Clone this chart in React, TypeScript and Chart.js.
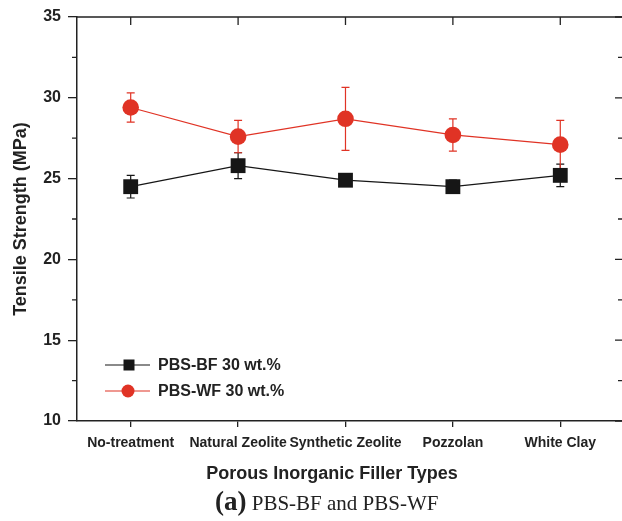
import React, { useEffect, useRef } from 'react';
import { Chart, registerables } from 'chart.js';

Chart.register(...registerables);

const categories = ['No-treatment', 'Natural Zeolite', 'Synthetic Zeolite', 'Pozzolan', 'White Clay'];
const bfValues = [24.5, 25.8, 24.9, 24.5, 25.2];
const bfErrors = [0.7, 0.8, 0.2, 0.4, 0.7];
const wfValues = [29.4, 27.6, 28.7, 27.7, 27.1];
const wfErrors = [0.9, 1.0, 1.95, 1.0, 1.5];
const yTicks = [10, 15, 20, 25, 30, 35];
const yMinorTicks = [12.5, 17.5, 22.5, 27.5, 32.5];
const seriesLabels = ['PBS-BF 30 wt.%', 'PBS-WF 30 wt.%'];
const xTitle = 'Porous Inorganic Filler Types';
const yTitle = 'Tensile Strength (MPa)';

const BLACK = '#161616';
const RED = '#e03325';
const AXIS = '#222222';
const FONT = '"Liberation Sans", Arial, sans-serif';

const errorsBySeries = [bfErrors, wfErrors];
const valuesBySeries = [bfValues, wfValues];
const colorsBySeries = [BLACK, RED];

const errorBarPlugin = {
  id: 'errorBars',
  beforeDatasetsDraw(chart: any) {
    const ctx = chart.ctx;
    const ys = chart.scales.y;
    ctx.save();
    for (let i = 0; i < chart.data.datasets.length; i++) {
      const meta = chart.getDatasetMeta(i);
      ctx.strokeStyle = colorsBySeries[i];
      ctx.lineWidth = 1.2;
      meta.data.forEach((pt: any, j: number) => {
        const v = valuesBySeries[i][j];
        const e = errorsBySeries[i][j];
        const yt = ys.getPixelForValue(v + e);
        const yb = ys.getPixelForValue(v - e);
        const x = pt.x;
        ctx.beginPath();
        ctx.moveTo(x, yt);
        ctx.lineTo(x, yb);
        ctx.moveTo(x - 4, yt);
        ctx.lineTo(x + 4, yt);
        ctx.moveTo(x - 4, yb);
        ctx.lineTo(x + 4, yb);
        ctx.stroke();
      });
    }
    ctx.restore();
  },
};

const framePlugin = {
  id: 'frame',
  afterDraw(chart: any) {
    const ctx = chart.ctx;
    const { left, right, top, bottom } = chart.chartArea;
    const ys = chart.scales.y;
    const xs = chart.scales.x;
    ctx.save();
    ctx.strokeStyle = AXIS;
    ctx.lineWidth = 1.5;
    ctx.beginPath();
    ctx.moveTo(left, top);
    ctx.lineTo(right, top);
    ctx.lineTo(right, bottom);
    ctx.stroke();
    ctx.lineWidth = 1.3;
    ctx.beginPath();
    yMinorTicks.forEach((v) => {
      const y = ys.getPixelForValue(v);
      ctx.moveTo(left - 5, y);
      ctx.lineTo(left, y);
      ctx.moveTo(right - 5, y);
      ctx.lineTo(right, y);
    });
    yTicks.forEach((v) => {
      const y = ys.getPixelForValue(v);
      ctx.moveTo(right - 8, y);
      ctx.lineTo(right, y);
    });
    categories.forEach((_, j) => {
      const x = xs.getPixelForValue(j);
      ctx.moveTo(x, top);
      ctx.lineTo(x, top + 8);
    });
    ctx.stroke();

    // legend
    const rows = [365, 391];
    rows.forEach((y, i) => {
      ctx.strokeStyle = colorsBySeries[i];
      ctx.fillStyle = colorsBySeries[i];
      ctx.lineWidth = 1.2;
      ctx.beginPath();
      ctx.moveTo(105, y);
      ctx.lineTo(150, y);
      ctx.stroke();
      if (i === 0) {
        ctx.fillRect(129 - 5.5, y - 5.5, 11, 11);
      } else {
        ctx.beginPath();
        ctx.arc(128, y, 6.5, 0, Math.PI * 2);
        ctx.fill();
      }
      ctx.fillStyle = AXIS;
      ctx.font = `bold 16px ${FONT}`;
      ctx.textBaseline = 'middle';
      ctx.textAlign = 'left';
      ctx.fillText(seriesLabels[i], 158, y + 1);
    });
    ctx.restore();
  },
};

export default function App() {
  const ref = useRef<HTMLCanvasElement>(null);
  useEffect(() => {
    const chart = new Chart(ref.current!, {
      type: 'line',
      data: {
        datasets: [
          {
            label: seriesLabels[0],
            data: bfValues.map((v, j) => ({ x: j, y: v })),
            borderColor: BLACK,
            backgroundColor: BLACK,
            borderWidth: 1.3,
            pointStyle: 'rect',
            pointRadius: 10.5,
            pointBorderWidth: 0,
            tension: 0,
          },
          {
            label: seriesLabels[1],
            data: wfValues.map((v, j) => ({ x: j, y: v })),
            borderColor: RED,
            backgroundColor: RED,
            borderWidth: 1.2,
            pointStyle: 'circle',
            pointRadius: 8.3,
            pointBorderWidth: 0,
            tension: 0,
          },
        ],
      },
      options: {
        responsive: false,
        animation: false,
        layout: { autoPadding: false, padding: { top: 17, right: 1, left: 0, bottom: 0 } },
        plugins: {
          legend: { display: false },
          tooltip: { enabled: false },
        },
        scales: {
          x: {
            type: 'linear',
            min: -0.5,
            max: 4.584,
            grid: {
              drawOnChartArea: false,
              tickLength: 6,
              color: AXIS,
              lineWidth: 1.3,
            },
            border: { display: true, color: AXIS, width: 1.5 },
            ticks: {
              color: AXIS,
              font: { family: FONT, size: 14, weight: 'bold' },
              padding: 8,
              maxRotation: 0,
              autoSkip: false,
              callback: (v: any) => categories[v] ?? '',
            },
            afterBuildTicks: (s: any) => {
              s.ticks = categories.map((_, j) => ({ value: j }));
            },
            afterFit: (s: any) => {
              s.height = 64;
              s.paddingLeft = 0;
              s.paddingRight = 0;
            },
          },
          y: {
            min: 10,
            max: 35,
            grid: {
              drawOnChartArea: false,
              tickLength: 9,
              color: AXIS,
              lineWidth: 1.3,
            },
            border: { display: true, color: AXIS, width: 1.5 },
            ticks: {
              color: AXIS,
              font: { family: FONT, size: 16, weight: 'bold' },
              padding: 7,
            },
            afterBuildTicks: (s: any) => {
              s.ticks = yTicks.map((v) => ({ value: v }));
            },
            title: {
              display: true,
              text: yTitle,
              color: AXIS,
              font: { family: FONT, size: 18, weight: 'bold' },
              padding: { top: 10, bottom: 10 },
            },
            afterFit: (s: any) => {
              s.width = 77;
              s.paddingTop = 0;
              s.paddingBottom = 0;
            },
          },
        },
      },
      plugins: [errorBarPlugin, framePlugin],
    } as any);
    return () => chart.destroy();
  }, []);

  return (
    <div style={{ position: 'absolute', left: 0, top: 0, width: 622, height: 521, background: '#fff', overflow: 'hidden' }}>
      <canvas ref={ref} width={624} height={485} style={{ position: 'absolute', left: 0, top: 0, width: 624, height: 485 }} />
      <div
        style={{
          position: 'absolute',
          left: 132,
          width: 400,
          top: 460,
          textAlign: 'center',
          whiteSpace: 'nowrap',
          fontFamily: FONT,
          fontWeight: 'bold',
          fontSize: 18,
          lineHeight: '26px',
          color: AXIS,
        }}
      >
        {xTitle}
      </div>
      <div
        style={{
          position: 'absolute',
          left: 215,
          top: 486,
          whiteSpace: 'nowrap',
          fontFamily: '"Liberation Serif", "Times New Roman", serif',
          fontSize: 21,
          lineHeight: '30px',
          color: '#222',
        }}
      >
        <span style={{ fontWeight: 'bold', fontSize: 27 }}>(a)</span> PBS-BF and PBS-WF
      </div>
    </div>
  );
}
